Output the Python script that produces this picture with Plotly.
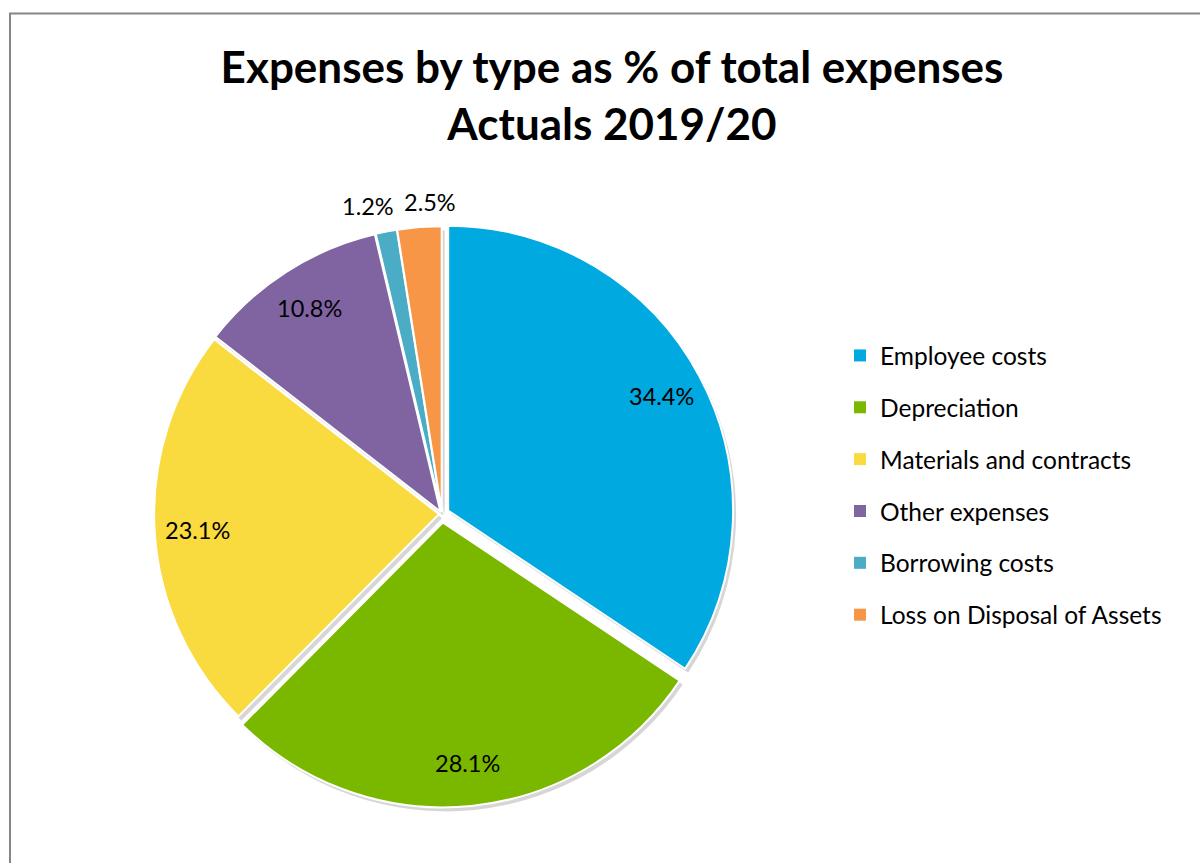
import math
import plotly.graph_objects as go

# Expense categories and their share of total expenses (%)
categories = [
    "Employee costs",
    "Depreciation",
    "Materials and contracts",
    "Other expenses",
    "Borrowing costs",
    "Loss on Disposal of Assets",
]
shares = [34.4, 28.1, 23.1, 10.8, 1.2, 2.5]
slice_colors = ["#00A9E0", "#7AB800", "#F9DA3F", "#8064A2", "#4BACC6", "#F79646"]
slice_pull = [0.025, 0.03, 0.01, 0.01, 0.01, 0.01]

W, H = 1200, 863
FONT = "Lato"
LABEL_SIZE = 23.5
LEGEND_SIZE = 24.5

# pie placement (paper fractions)
dom_x = [0.1237, 0.6128]
dom_y = [0.0643, 0.7446]

fig = go.Figure()

# soft drop shadow under the slices
shift_x, shift_y = 3 / W, 4 / H
fig.add_trace(go.Pie(
    labels=categories, values=shares, sort=False, direction="clockwise", rotation=0,
    pull=slice_pull, textinfo="none", hoverinfo="skip", showlegend=False,
    marker=dict(colors=["rgba(0,0,0,0.16)"] * len(shares), line=dict(width=0)),
    domain=dict(x=[dom_x[0] + shift_x, dom_x[1] + shift_x],
                y=[dom_y[0] - shift_y, dom_y[1] - shift_y]),
))

fig.add_trace(go.Pie(
    labels=categories, values=shares, sort=False, showlegend=False,
    direction="clockwise", rotation=0, pull=slice_pull, textinfo="none",
    marker=dict(colors=slice_colors, line=dict(color="white", width=2)),
    domain=dict(x=dom_x, y=dom_y),
    hovertemplate="%{label}: %{value}%<extra></extra>",
))

# legend entries, one group per category so the rows can be spaced apart
for name, color in zip(categories, slice_colors):
    fig.add_trace(go.Scatter(
        x=[None], y=[None], mode="markers", name=name, legendgroup=name,
        marker=dict(symbol="square", size=12, color=color),
        hoverinfo="skip",
    ))

# data labels, placed along each slice's bisector using the pie geometry
box = min((dom_x[1] - dom_x[0]) * W, (dom_y[1] - dom_y[0]) * H)
r = box / 2 / (1 + max(slice_pull))
cx = W * (dom_x[0] + dom_x[1]) / 2
cy = H * (1 - (dom_y[0] + dom_y[1]) / 2)
total = sum(shares)

inside, outside = [], []
cum = 0.0
for v, p in zip(shares, slice_pull):
    mid = (cum + v / 2) / total * 2 * math.pi
    cum += v
    dx, dy = math.sin(mid), -math.cos(mid)
    text = f"{v:.1f}%"
    if v / total > 0.05:
        k = 0.85 + p
        inside.append([cx + dx * k * r, cy + dy * k * r, text])
    else:
        k = 1.09 + p
        outside.append([cx + dx * k * r, cy + dy * k * r, text])

# keep neighbouring outside labels from overlapping
outside.sort(key=lambda t: t[0])
for _ in range(20):
    for a, b in zip(outside, outside[1:]):
        need = (len(a[2]) + len(b[2])) / 2 * LABEL_SIZE * 0.55 + 10
        gap = b[0] - a[0]
        if gap < need:
            d = (need - gap) / 2
            a[0] -= d
            b[0] += d

for px, py, text in inside + outside:
    fig.add_annotation(
        x=px / W, y=1 - py / H, xref="paper", yref="paper", text=text,
        showarrow=False, xanchor="center", yanchor="middle",
        font=dict(family=FONT, size=LABEL_SIZE, color="#000000"),
    )

# chart frame
fig.add_shape(type="rect", xref="paper", yref="paper",
              x0=10 / W, x1=1.02, y0=-0.02, y1=1 - 13.5 / H,
              line=dict(color="#868686", width=2), fillcolor="rgba(0,0,0,0)")

fig.update_layout(
    width=W, height=H,
    margin=dict(l=0, r=0, t=0, b=0),
    paper_bgcolor="white", plot_bgcolor="white",
    xaxis=dict(visible=False), yaxis=dict(visible=False),
    title=dict(
        text="<b>Expenses by type as % of total expenses<br>Actuals 2019/20</b>",
        x=612 / W, xanchor="center", y=1 - 83 / H, yanchor="middle", yref="container",
        font=dict(family=FONT, size=44, color="#000000"),
    ),
    legend=dict(
        x=0.7, y=1 - 333 / H, xanchor="left", yanchor="top",
        font=dict(family=FONT, size=LEGEND_SIZE, color="#000000"),
        traceorder="grouped", tracegroupgap=17,
        bgcolor="rgba(0,0,0,0)",
    ),
)

fig.write_html("out.html")
